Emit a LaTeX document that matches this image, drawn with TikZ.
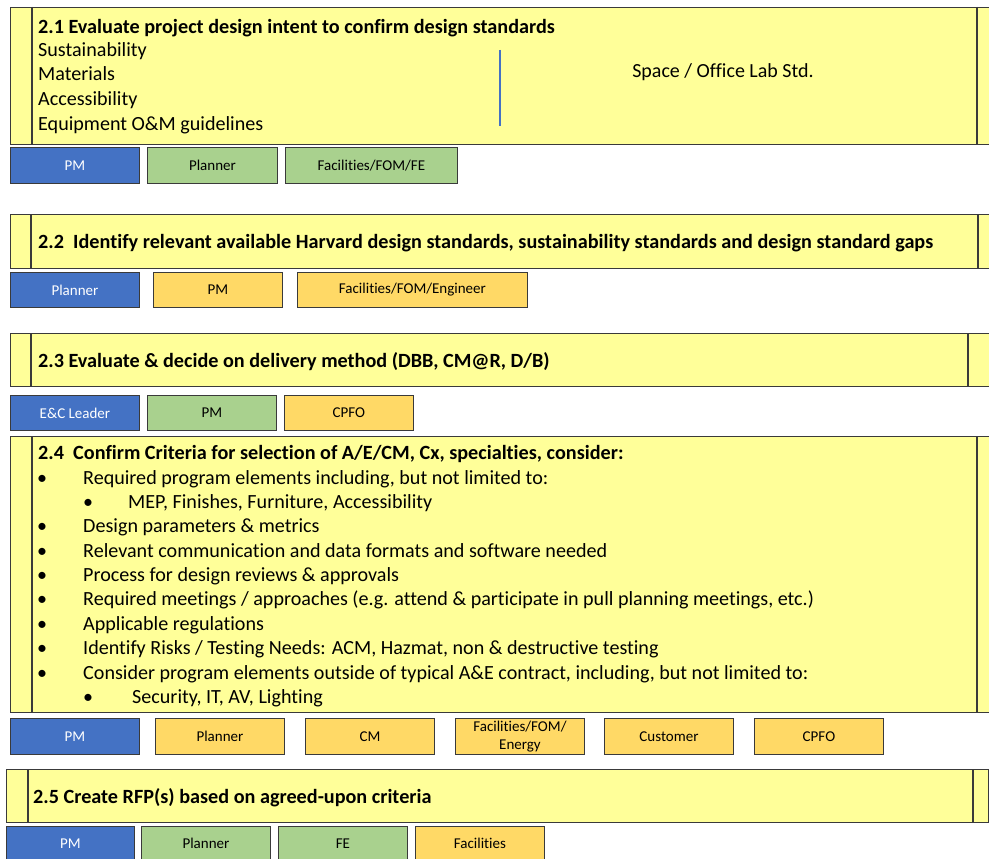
\documentclass[tikz,border=0pt]{standalone}
\usepackage{fontspec}
\setmainfont{Carlito}[Ligatures=NoCommon]
\definecolor{taskyellow}{HTML}{FFFF99}
\definecolor{roleblue}{HTML}{4472C4}
\definecolor{rolegreen}{HTML}{A9D18E}
\definecolor{rolegold}{HTML}{FFD966}
\definecolor{edgegray}{HTML}{3A3A3A}
\tikzset{
  taskbox/.style={draw=edgegray, fill=taskyellow, line width=1.1pt, anchor=north west, inner sep=0pt},
  divider/.style={draw=edgegray, line width=1.1pt},
  rolebox/.style={draw=edgegray, line width=0.9pt, anchor=north west, inner sep=1pt,
    minimum width=129pt, minimum height=36pt, font=\fontsize{15}{15}\selectfont, align=center},
  lead/.style={rolebox, fill=roleblue, text=white},
  agree/.style={rolebox, fill=rolegreen},
  inform/.style={rolebox, fill=rolegold},
  head/.style={anchor=base west, inner sep=0pt, font=\fontsize{20.2}{24}\selectfont\bfseries},
  body/.style={anchor=base west, inner sep=0pt, font=\fontsize{20.1}{24}\selectfont},
  dot/.style={anchor=base west, inner sep=0pt, font=\fontsize{20}{24}\selectfont},
}
\begin{document}
\begin{tikzpicture}[x=1pt,y=-1pt]
\useasboundingbox (0,0) rectangle (989,859);
\fill[white] (0,0) rectangle (989,859);

% ---- 2.1 ----
\node[taskbox, minimum width=982pt, minimum height=137pt] (t1) at (10,7) {};
\draw[divider] (32,7) -- (32,144);
\draw[divider] (977,7) -- (977,144);
\node[head] (t1h) at (38,34) {2.1 Evaluate project design intent to confirm design standards};
\node[body] (t1a) at (38,57) {Sustainability};
\node[body] (t1b) at (38,81) {Materials};
\node[body] (t1c) at (38,106) {Accessibility};
\node[body] (t1d) at (38,130) {Equipment O\&M guidelines};
\draw[roleblue, line width=2pt] (500,50) -- (500,126);
\node[anchor=center, inner sep=0pt, font=\fontsize{20}{24}\selectfont] (t1s) at (723,72) {Space / Office Lab Std.};
\node[lead, minimum width=129pt] (r1a) at (10,147) {PM};
\node[agree, minimum width=130pt] (r1b) at (147,147) {Planner};
\node[agree, minimum width=172pt] (r1c) at (285,147) {Facilities/FOM/FE};

% ---- 2.2 ----
\node[taskbox, minimum width=982pt, minimum height=54pt] (t2) at (10,214) {};
\draw[divider] (31,214) -- (31,268);
\draw[divider] (978,214) -- (978,268);
\node[head] (t2h) at (38,248) {2.2\ \ Identify relevant available Harvard design standards, sustainability standards and design standard gaps};
\node[lead, minimum width=129pt, minimum height=35pt] (r2a) at (10,272) {Planner};
\node[inform, minimum width=129pt, minimum height=35pt] (r2b) at (153,272) {PM};
\node[inform, minimum width=230pt, minimum height=35pt] (r2c) at (297,272) {Facilities/FOM/Engineer};

% ---- 2.3 ----
\node[taskbox, minimum width=982pt, minimum height=53pt] (t3) at (10,333) {};
\draw[divider] (31,333) -- (31,386);
\draw[divider] (968,333) -- (968,386);
\node[head] (t3h) at (38,367) {2.3 Evaluate \& decide on delivery method (DBB, CM@R, D/B)};
\node[lead, minimum width=129pt, minimum height=35pt] (r3a) at (10,395) {E\&C Leader};
\node[agree, minimum width=129pt, minimum height=35pt] (r3b) at (147,395) {PM};
\node[inform, minimum width=129pt, minimum height=35pt] (r3c) at (284,395) {CPFO};

% ---- 2.4 ----
\node[taskbox, minimum width=982pt, minimum height=276pt] (t4) at (10,436) {};
\draw[divider] (32,436) -- (32,712);
\draw[divider] (977,436) -- (977,712);
\node[head] (t4h) at (38,459) {2.4\ \ Confirm Criteria for selection of A/E/CM, Cx, specialties, consider:};
\foreach \y/\txt [count=\i] in {
  484/{Required program elements including, but not limited to:},
  532/{Design parameters \& metrics},
  557/{Relevant communication and data formats and software needed},
  581/{Process for design reviews \& approvals},
  605/{Required meetings / approaches (e.g. attend \& participate in pull planning meetings, etc.)},
  630/{Applicable regulations},
  654/{Identify Risks / Testing Needs: ACM, Hazmat, non \& destructive testing},
  679/{Consider program elements outside of typical A\&E contract, including, but not limited to:}} {
  \node[dot] (b\i) at (37,\y) {\textbullet};
  \node[body] (c\i) at (83,\y) {\txt};
}
\node[dot] (s1) at (83,508) {\textbullet};
\node[body] (u1) at (128,508) {MEP, Finishes, Furniture, Accessibility};
\node[dot] (s2) at (83,703) {\textbullet};
\node[body] (u2) at (132,703) {Security, IT, AV, Lighting};
\node[lead, minimum height=36pt] (r4a) at (10,718) {PM};
\node[inform, minimum height=36pt] (r4b) at (155,718) {Planner};
\node[inform, minimum height=36pt] (r4c) at (305,718) {CM};
\node[inform, minimum height=36pt, font=\fontsize{15}{18}\selectfont] (r4d) at (455,718) {Facilities/FOM/\\Energy};
\node[inform, minimum height=36pt] (r4e) at (604,718) {Customer};
\node[inform, minimum height=36pt] (r4f) at (754,718) {CPFO};

% ---- 2.5 ----
\node[taskbox, minimum width=982pt, minimum height=53pt] (t5) at (6,769) {};
\draw[divider] (28,769) -- (28,822);
\draw[divider] (973,769) -- (973,822);
\node[head] (t5h) at (33,803) {2.5 Create RFP(s) based on agreed-upon criteria};
\node[lead, minimum width=128pt, minimum height=34pt] (r5a) at (6,826) {PM};
\node[agree, minimum width=129pt, minimum height=34pt] (r5b) at (141,826) {Planner};
\node[agree, minimum width=129pt, minimum height=34pt] (r5c) at (278,826) {FE};
\node[inform, minimum width=129pt, minimum height=34pt] (r5d) at (415,826) {Facilities};
\end{tikzpicture}
\end{document}
